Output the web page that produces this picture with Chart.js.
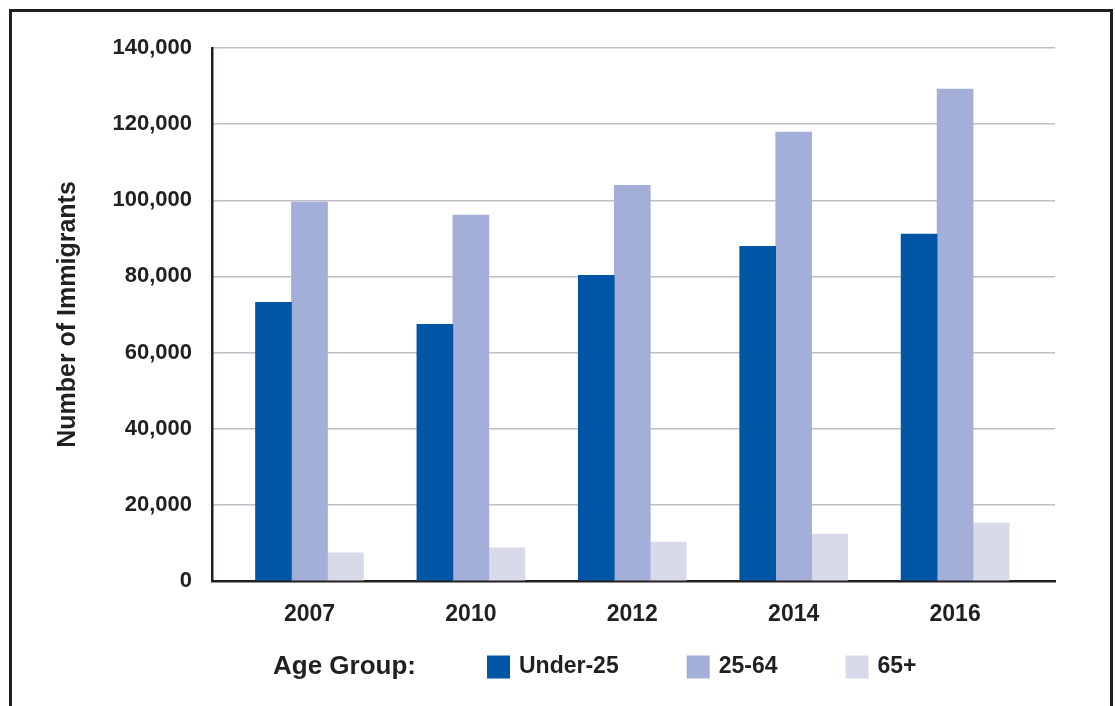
<!doctype html>
<html>
<head>
    <script src="https://cdn.jsdelivr.net/npm/chart.js"></script>
    <style>
        body { margin: 0; background: #fff; overflow: hidden; }
        #wrap { position: relative; width: 1115px; height: 706px; }
        #frame {
            position: absolute; left: 9px; top: 9px; width: 1098px; height: 720px;
            border: 3px solid #231f20; border-bottom: none; pointer-events: none;
        }
    </style>
</head>
<body>
    <div id="wrap">
        <canvas id="immChart" width="1115" height="706"></canvas>
        <div id="frame"></div>
    </div>

    <script>
        // data
        const years = ['2007', '2010', '2012', '2014', '2016'];
        const under25 = [73200, 67400, 80300, 87900, 91100];
        const age25to64 = [99500, 96100, 103900, 117900, 129200];
        const over65 = [7400, 8700, 10200, 12300, 15200];
        const yTicks = [0, 20000, 40000, 60000, 80000, 100000, 120000, 140000];

        const textColor = '#231f20';
        const fontFamily = '"Liberation Sans", Arial, sans-serif';

        const toPoints = arr => arr.map((v, i) => ({ x: i, y: v }));

        // "Age Group:" row under the axis
        const legendRow = {
            id: 'legendRow',
            afterDraw(chart) {
                const ctx = chart.ctx;
                const y = 667;
                ctx.save();
                ctx.textBaseline = 'middle';
                ctx.fillStyle = textColor;
                ctx.font = 'bold 26px ' + fontFamily;
                ctx.fillText('Age Group:', 273, y);
                ctx.font = 'bold 23px ' + fontFamily;
                let x = 487;
                chart.data.datasets.forEach(ds => {
                    ctx.fillStyle = ds.backgroundColor;
                    ctx.fillRect(x, y - 11.5, 23, 23);
                    ctx.fillStyle = textColor;
                    ctx.fillText(ds.label, x + 32, y);
                    x += 32 + ctx.measureText(ds.label).width + 68;
                });
                ctx.restore();
            }
        };

        const ctx = document.getElementById('immChart').getContext('2d');
        const immChart = new Chart(ctx, {
            type: 'bar',
            data: {
                datasets: [
                    { label: 'Under-25', data: toPoints(under25), backgroundColor: '#0055a5' },
                    { label: '25-64', data: toPoints(age25to64), backgroundColor: '#a3afd8' },
                    { label: '65+', data: toPoints(over65), backgroundColor: '#d8daea' }
                ]
            },
            options: {
                responsive: false,
                animation: false,
                barThickness: 36,
                layout: { padding: { left: 0, right: 60, top: 48, bottom: 75 } },
                plugins: {
                    legend: { display: false },
                    tooltip: { enabled: false }
                },
                scales: {
                    x: {
                        type: 'linear',
                        offset: false,
                        min: -0.604,
                        max: 4.619,
                        afterFit: s => { s.height = 50; },
                        afterBuildTicks: s => { s.ticks = years.map((y, i) => ({ value: i })); },
                        grid: { display: false, drawTicks: false },
                        border: { color: textColor, width: 2.5 },
                        ticks: {
                            padding: 20,
                            color: textColor,
                            font: { family: fontFamily, size: 23, weight: 'bold' },
                            callback: v => years[v]
                        }
                    },
                    y: {
                        min: 0,
                        max: 140000,
                        afterFit: s => { s.width = 212; },
                        afterBuildTicks: s => { s.ticks = yTicks.map(v => ({ value: v })); },
                        grid: { color: '#bfbfc3', lineWidth: 1.5, drawTicks: false },
                        border: { color: textColor, width: 2.5 },
                        ticks: {
                            padding: 20,
                            color: textColor,
                            font: { family: fontFamily, size: 22, weight: 'bold' },
                            callback: v => v.toLocaleString('en-US')
                        },
                        title: {
                            display: true,
                            text: 'Number of Immigrants',
                            color: textColor,
                            padding: { top: 53, bottom: 0 },
                            font: { family: fontFamily, size: 25, weight: 'bold' }
                        }
                    }
                }
            },
            plugins: [legendRow]
        });
    </script>
</body>
</html>
